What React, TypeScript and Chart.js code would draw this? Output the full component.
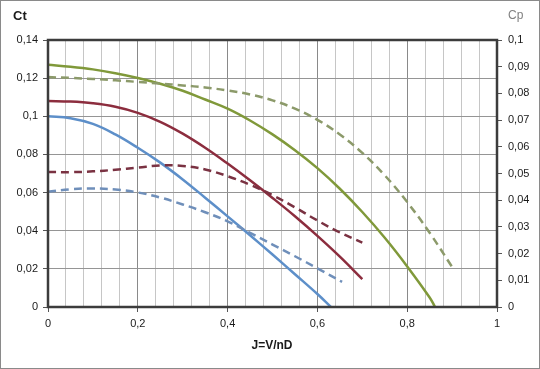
import React, { useEffect, useRef } from 'react';
import { Chart, registerables } from 'chart.js';
Chart.register(...registerables);

// J = V/nD values for each curve
const jBlueCt = [0, 0.05, 0.1, 0.15, 0.2, 0.25, 0.3, 0.35, 0.4, 0.45, 0.5, 0.55, 0.6, 0.63];
const blueCt = [0.1, 0.099, 0.096, 0.0905, 0.0835, 0.0757, 0.0669, 0.0573, 0.0475, 0.0376, 0.0275, 0.0172, 0.0068, 0];

const jRedCt = [0, 0.05, 0.1, 0.15, 0.2, 0.25, 0.3, 0.35, 0.4, 0.45, 0.5, 0.55, 0.6, 0.65, 0.7];
const redCt = [0.108, 0.1077, 0.1068, 0.105, 0.1018, 0.0971, 0.0909, 0.0835, 0.0752, 0.0664, 0.0572, 0.0476, 0.0373, 0.0264, 0.0146];

const jGreenCt = [0, 0.05, 0.1, 0.15, 0.2, 0.25, 0.3, 0.35, 0.4, 0.45, 0.5, 0.55, 0.6, 0.65, 0.7, 0.75, 0.8, 0.85, 0.862];
const greenCt = [0.127, 0.126, 0.1246, 0.1226, 0.1201, 0.1171, 0.1134, 0.1088, 0.104, 0.0978, 0.0905, 0.0822, 0.0728, 0.062, 0.0498, 0.0363, 0.0213, 0.005, 0];

const jBlueCp = [0, 0.05, 0.1, 0.15, 0.2, 0.25, 0.3, 0.35, 0.4, 0.45, 0.5, 0.55, 0.6, 0.655];
const blueCp = [0.0432, 0.0441, 0.0444, 0.044, 0.0429, 0.041, 0.0384, 0.0355, 0.0321, 0.0278, 0.0234, 0.019, 0.0145, 0.0094];

const jRedCp = [0, 0.05, 0.1, 0.15, 0.2, 0.25, 0.3, 0.35, 0.4, 0.45, 0.5, 0.55, 0.6, 0.65, 0.7];
const redCp = [0.0506, 0.0505, 0.0508, 0.0514, 0.0522, 0.053, 0.0528, 0.0515, 0.049, 0.0458, 0.0419, 0.0373, 0.0324, 0.0279, 0.0241];

const jGreenCp = [0, 0.05, 0.1, 0.15, 0.2, 0.25, 0.3, 0.35, 0.4, 0.45, 0.5, 0.55, 0.6, 0.65, 0.7, 0.75, 0.8, 0.85, 0.9];
const greenCp = [0.0861, 0.0858, 0.0854, 0.0849, 0.0843, 0.0837, 0.083, 0.0822, 0.0811, 0.0796, 0.0774, 0.0743, 0.0701, 0.0646, 0.0577, 0.0493, 0.0393, 0.0278, 0.015];

const ctTitle = 'Ct';
const cpTitle = 'Cp';
const xTitle = 'J=V/nD';

const pts = (xs: number[], ys: number[]) => xs.map((x, i) => ({ x, y: ys[i] }));
const fmt = (v: number) => String(parseFloat(v.toFixed(3))).replace('.', ',');
const FONT = '"Liberation Sans", Arial, sans-serif';

const isMajorX = (v: number) => Math.abs(v * 5 - Math.round(v * 5)) < 1e-6;

const decor = {
  id: 'decor',
  afterDraw(chart: any) {
    const { ctx, chartArea: a } = chart;
    ctx.save();
    ctx.strokeStyle = '#3c3c3c';
    ctx.lineWidth = 2.5;
    ctx.strokeRect(a.left, a.top, a.right - a.left, a.bottom - a.top);
    ctx.textBaseline = 'middle';
    ctx.textAlign = 'left';
    ctx.fillStyle = '#1a1a1a';
    ctx.font = 'bold 13px ' + FONT;
    ctx.fillText(ctTitle, 12, 15);
    ctx.fillStyle = '#808080';
    ctx.font = '12px ' + FONT;
    ctx.fillText(cpTitle, 507, 15);
    ctx.fillStyle = '#1a1a1a';
    ctx.font = 'bold 12px ' + FONT;
    ctx.textAlign = 'center';
    ctx.fillText(xTitle, 271, 345);
    ctx.restore();
  },
};

export default function App() {
  const ref = useRef<HTMLCanvasElement>(null);
  useEffect(() => {
    if (!ref.current) return;
    const common = { pointRadius: 0, borderWidth: 2.5, tension: 0.4, showLine: true, fill: false };
    const chart = new Chart(ref.current, {
      type: 'scatter',
      data: {
        datasets: [
          { ...common, label: 'Cp 1', data: pts(jBlueCp, blueCp), yAxisID: 'y1', borderColor: '#6f8fba', borderDash: [8, 5] },
          { ...common, label: 'Cp 2', data: pts(jRedCp, redCp), yAxisID: 'y1', borderColor: '#7a3242', borderDash: [8, 5] },
          { ...common, label: 'Cp 3', data: pts(jGreenCp, greenCp), yAxisID: 'y1', borderColor: '#8c9a6a', borderDash: [8, 5] },
          { ...common, label: 'Ct 1', data: pts(jBlueCt, blueCt), yAxisID: 'y', borderColor: '#5d8fc9' },
          { ...common, label: 'Ct 2', data: pts(jRedCt, redCt), yAxisID: 'y', borderColor: '#8c2d3e' },
          { ...common, label: 'Ct 3', data: pts(jGreenCt, greenCt), yAxisID: 'y', borderColor: '#80993a' },
        ] as any,
      },
      options: {
        animation: false,
        responsive: true,
        maintainAspectRatio: false,
        layout: { padding: { top: 39, left: 0, right: 0, bottom: 0 } },
        plugins: { legend: { display: false }, tooltip: { enabled: false } },
        scales: {
          x: {
            type: 'linear',
            min: 0,
            max: 1,
            afterFit: (s: any) => { s.height = 61; },
            border: { display: false },
            ticks: {
              stepSize: 0.04,
              autoSkip: false,
              maxRotation: 0,
              padding: 5,
              color: '#1a1a1a',
              font: { family: FONT, size: 11 },
              callback: (v: any) => (isMajorX(Number(v)) ? fmt(Number(v)) : ''),
            },
            grid: {
              tickLength: 5,
              color: (c: any) => (isMajorX(c.tick?.value ?? 0) ? '#8a8a8a' : '#c6c6c6'),
              tickColor: (c: any) => (isMajorX(c.tick?.value ?? 0) ? '#555' : 'rgba(0,0,0,0)'),
            },
          },
          y: {
            type: 'linear',
            position: 'left',
            min: 0,
            max: 0.14,
            afterFit: (s: any) => { s.width = 47; },
            border: { display: false },
            ticks: {
              stepSize: 0.02,
              padding: 5,
              color: '#1a1a1a',
              font: { family: FONT, size: 11 },
              callback: (v: any) => fmt(Number(v)),
            },
            grid: { color: '#959595', tickLength: 5, tickColor: '#555' },
          },
          y1: {
            type: 'linear',
            position: 'right',
            min: 0,
            max: 0.1,
            afterFit: (s: any) => { s.width = 42; },
            border: { display: false },
            ticks: {
              stepSize: 0.01,
              padding: 6,
              color: '#1a1a1a',
              font: { family: FONT, size: 11 },
              callback: (v: any) => fmt(Number(v)),
            },
            grid: { drawOnChartArea: false, tickLength: 5, tickColor: '#555' },
          },
        },
      } as any,
      plugins: [decor],
    });
    return () => chart.destroy();
  }, []);
  return (
    <div style={{ position: 'absolute', left: 0, top: 0, width: 540, height: 369, boxSizing: 'border-box', border: '1px solid #8a8a8a', background: '#fff' }}>
      <div style={{ position: 'relative', width: 538, height: 367 }}>
        <canvas ref={ref} />
      </div>
    </div>
  );
}
